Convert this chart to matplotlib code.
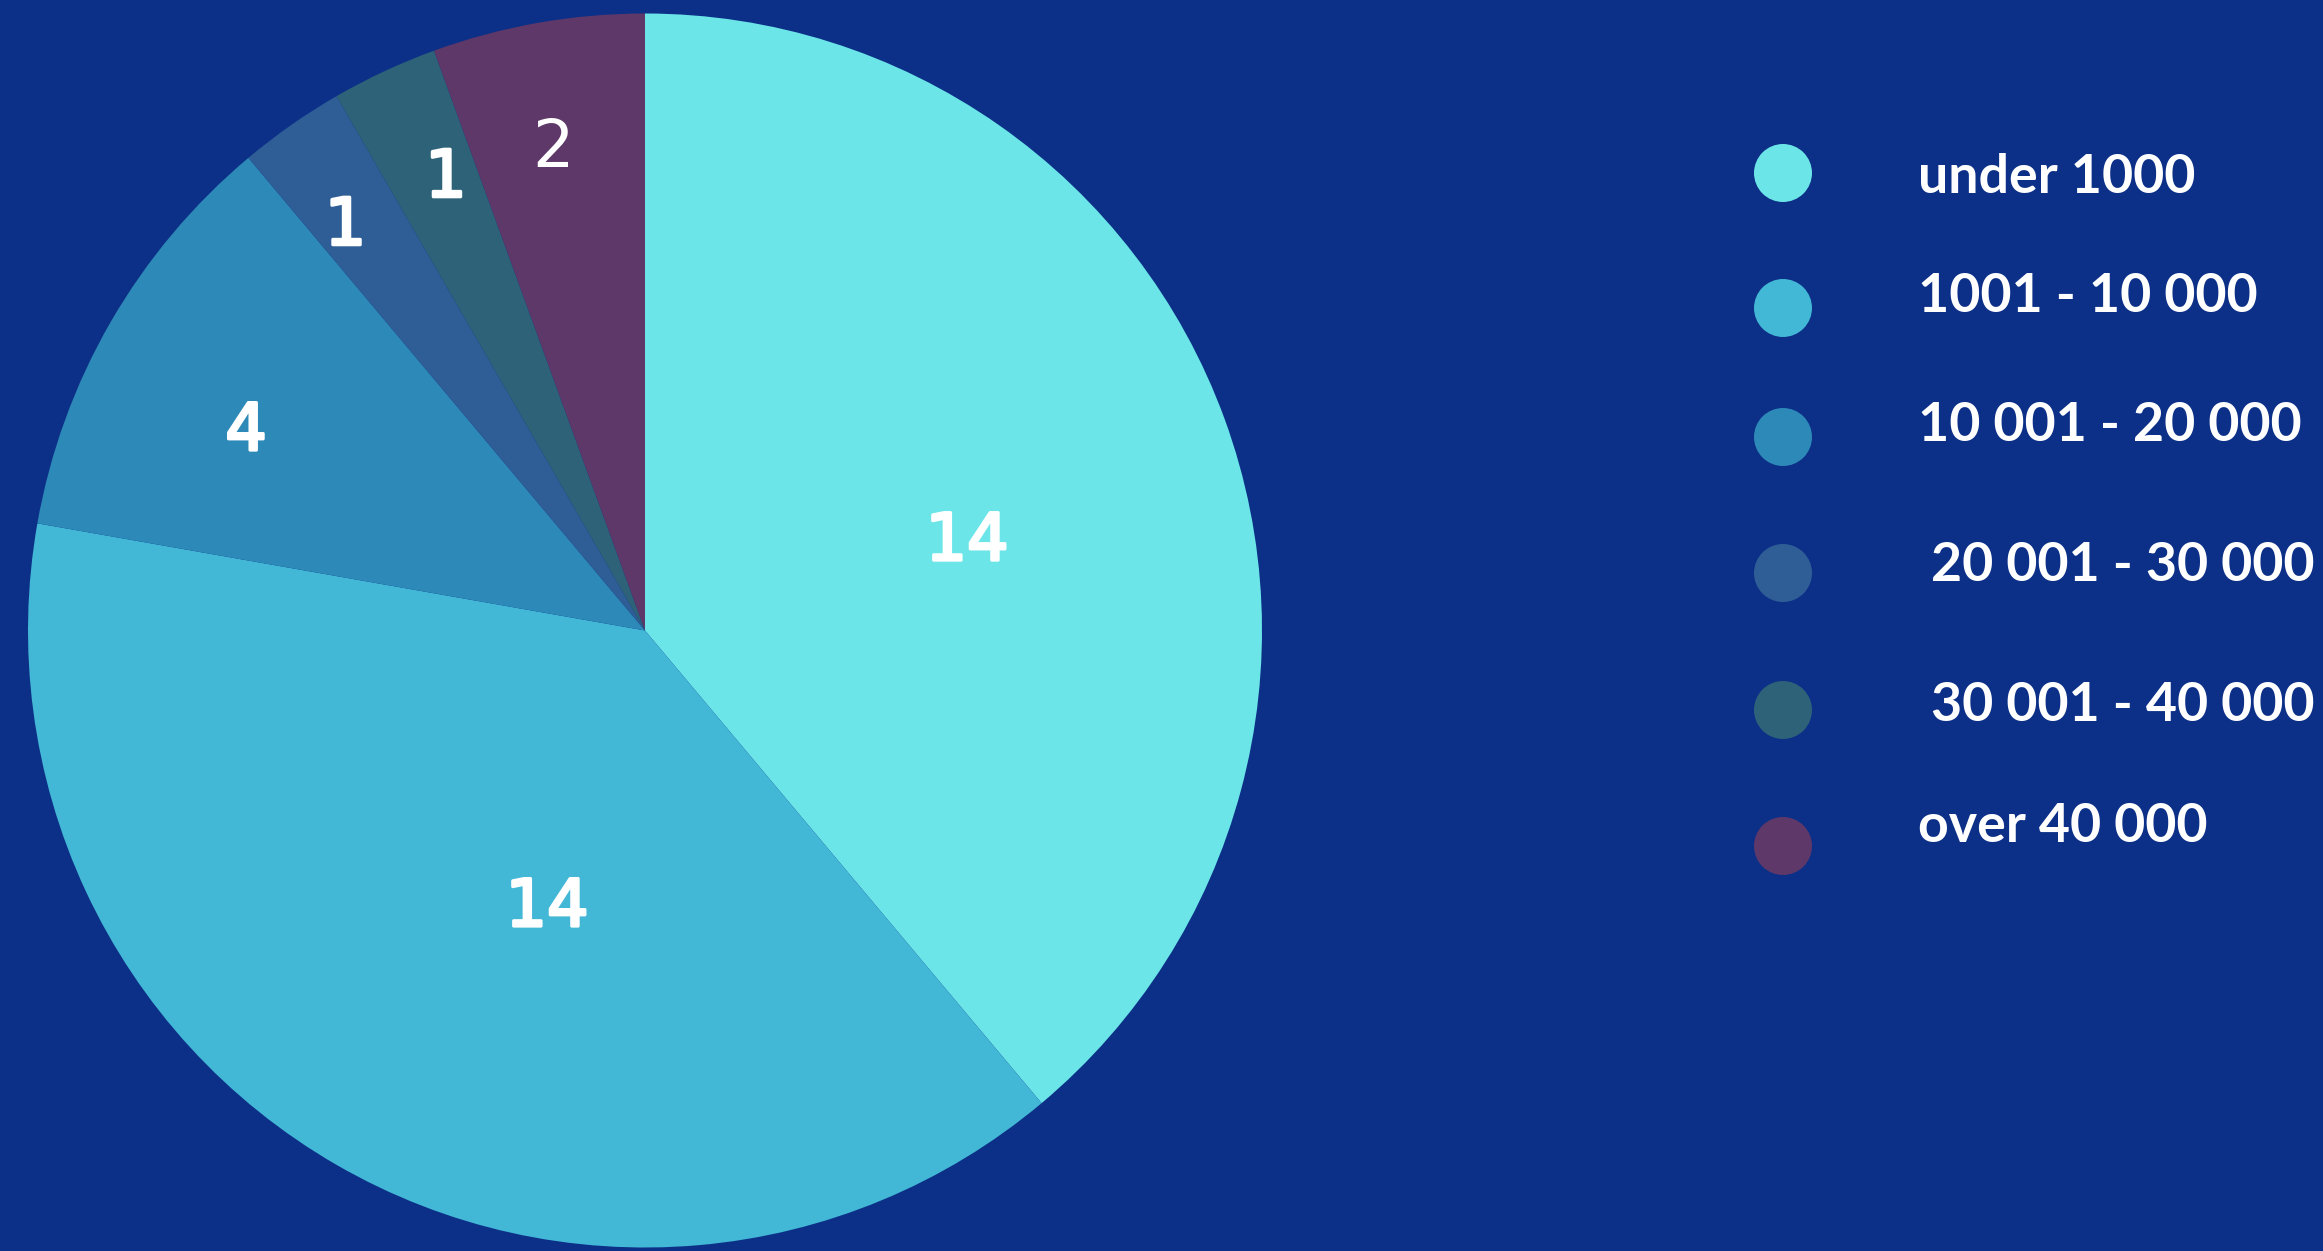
import numpy as np
import matplotlib
matplotlib.use("Agg")
import matplotlib.pyplot as plt
import matplotlib.patheffects as pe
import matplotlib.transforms as mtransforms
from matplotlib.patches import Circle

# Data
categories = ["under 1000", "1001 - 10 000", "10 001 - 20 000",
              " 20 001 - 30 000", " 30 001 - 40 000", "over 40 000"]
counts = [14, 14, 4, 1, 1, 2]

# Styling
colors = ["#6BE5E8", "#42B7D6", "#2D89B8", "#2F5E97", "#2D6279", "#5E3869"]
background = "#0C3087"
label_radius = [0.543, 0.471, 0.725, 0.82, 0.806, 0.80]
label_angle_nudge = [-4.0, 10.3, 3.1, 1.3, -1.4, 0.7]
label_stroke = [2.2, 2.2, 2.2, 2.2, 2.2, 0.0]

W, H = 2323, 1251
fig = plt.figure(figsize=(W / 100, H / 100), dpi=100, facecolor=background)

# Pie axes (square in pixels)
cx, cy, R = 645.0, 630.5, 617.0
ax = fig.add_axes([(cx - R) / W, (H - cy - R) / H, 2 * R / W, 2 * R / H])
ax.set_facecolor(background)
wedges, _ = ax.pie(counts, colors=colors, startangle=90, counterclock=False,
                   radius=1.0, wedgeprops=dict(linewidth=0))
ax.set_xlim(-1, 1)
ax.set_ylim(-1, 1)
ax.axis("off")

# value labels, nudged slightly down so the digits sit centred
label_tf = mtransforms.offset_copy(ax.transData, fig=fig, y=-4, units="dots")
for w, val, r, nudge, sw in zip(wedges, counts, label_radius,
                                 label_angle_nudge, label_stroke):
    mid = np.deg2rad((w.theta1 + w.theta2) / 2 + nudge)
    t = ax.text(r * np.cos(mid), r * np.sin(mid), str(val), color="white",
                fontsize=47, family="DejaVu Sans", ha="center", va="center",
                transform=label_tf)
    if sw > 0:
        t.set_path_effects([pe.Stroke(linewidth=sw, foreground="white"),
                            pe.Normal()])

# Legend drawn in a pixel-unit overlay
lg = fig.add_axes([0, 0, 1, 1])
lg.set_xlim(0, W)
lg.set_ylim(H, 0)
lg.axis("off")
lg.patch.set_alpha(0)

marker_x = 1783
marker_y = [173, 308, 437, 573, 710, 846]
text_x = 1918
text_y = [173, 292, 421, 561, 701, 822]
for c, name, my, ty in zip(colors, categories, marker_y, text_y):
    lg.add_patch(Circle((marker_x, my), 29, facecolor=c, edgecolor="none"))
    lg.text(text_x, ty, name, color="white", fontsize=38.7, fontweight="bold",
            family=["Lato", "DejaVu Sans"], ha="left", va="center_baseline")

fig.savefig("out.png", dpi=100, facecolor=background)
